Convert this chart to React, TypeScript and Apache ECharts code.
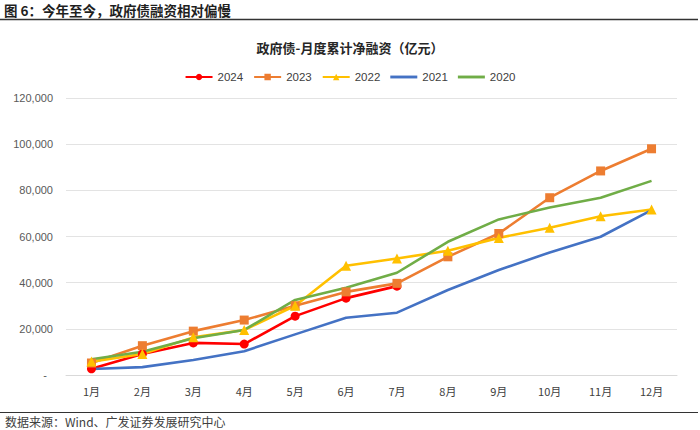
import React, { useEffect, useRef } from "react";
import * as echarts from "echarts";

const months = ["1月", "2月", "3月", "4月", "5月", "6月", "7月", "8月", "9月", "10月", "11月", "12月"];
const s2024 = [2700, 9100, 13900, 13400, 25500, 33300, 38500];
const s2023 = [5200, 12700, 19000, 23800, 30000, 36000, 39700, 51200, 61300, 76800, 88400, 98000];
const s2022 = [5800, 9100, 16300, 19500, 30000, 47300, 50500, 53800, 59400, 63800, 68800, 71700];
const s2021 = [2600, 3400, 6500, 10300, 17600, 24800, 27000, 36800, 45500, 53100, 59900, 71400];
const s2020 = [6800, 10100, 15900, 19500, 32500, 37800, 44300, 57700, 67400, 72600, 76800, 84100];
const yTicks = { min: 0, max: 120000, interval: 20000 };

const pageTitle = "图 6：今年至今，政府债融资相对偏慢";
const chartTitle = "政府债-月度累计净融资（亿元）";
const sourceText = "数据来源：Wind、广发证券发展研究中心";

export default function App() {
  const ref = useRef<HTMLDivElement>(null);
  useEffect(() => {
    if (!ref.current) return;
    const chart = echarts.init(ref.current, null, { renderer: "svg" });
    const cjk = "'Noto Sans CJK SC', sans-serif";
    const lineIcon = "path://M0,0 L28,0 L28,3 L0,3 Z";
    const mk = (name: string, data: number[], color: string, symbol: string, size: number) => ({
      name,
      type: "line",
      data,
      symbol,
      symbolSize: size,
      showSymbol: symbol !== "none",
      lineStyle: { color, width: 2.6 },
      itemStyle: { color },
    });
    chart.setOption({
      animation: false,
      backgroundColor: "#ffffff",
      title: {
        text: chartTitle,
        left: "center",
        top: 36,
        textStyle: { fontFamily: cjk, fontSize: 13, fontWeight: "bold", color: "#262626" },
      },
      legend: {
        top: 66,
        left: "center",
        itemWidth: 27,
        itemHeight: 8,
        itemGap: 10,
        textStyle: { fontFamily: "'Liberation Sans', Arial, sans-serif", fontSize: 11.5, color: "#404040" },
        data: [
          { name: "2024" },
          { name: "2023" },
          { name: "2022" },
          { name: "2021", icon: lineIcon },
          { name: "2020", icon: lineIcon },
        ],
      },
      grid: { left: 66, right: 23, top: 98, bottom: 55 },
      xAxis: {
        type: "category",
        data: months,
        boundaryGap: true,
        axisLine: { lineStyle: { color: "#d9d9d9" } },
        axisTick: { show: false },
        axisLabel: { fontFamily: cjk, fontSize: 11, color: "#404040", margin: 10 },
      },
      yAxis: {
        type: "value",
        min: yTicks.min,
        max: yTicks.max,
        interval: yTicks.interval,
        axisLine: { show: false },
        axisTick: { show: false },
        splitLine: { lineStyle: { color: "#e3e3e3", width: 1 } },
        axisLabel: {
          fontFamily: "'Liberation Sans', Arial, sans-serif",
          fontSize: 11,
          color: "#595959",
          margin: 13,
          formatter: (v: number) => (v === 0 ? "{z|-}" : v.toLocaleString("en-US")),
          rich: { z: { padding: [0, 6, 0, 0], fontSize: 11, color: "#595959" } },
        },
      },
      series: [
        mk("2024", s2024, "#ff0000", "circle", 9),
        mk("2023", s2023, "#ed7d31", "rect", 9),
        mk("2022", s2022, "#ffc000", "triangle", 10),
        mk("2021", s2021, "#4472c4", "none", 0),
        mk("2020", s2020, "#70ad47", "none", 0),
      ],
      graphic: [
        {
          type: "text",
          left: 4,
          top: 3,
          style: { text: pageTitle, font: `bold 13.5px ${cjk}`, fill: "#1f1f1f" },
        },
        {
          type: "line",
          shape: { x1: 0, y1: 19.5, x2: 698, y2: 19.5 },
          style: { stroke: "#333333", lineWidth: 1.5 },
        },
        {
          type: "line",
          shape: { x1: 0, y1: 412.5, x2: 698, y2: 412.5 },
          style: { stroke: "#333333", lineWidth: 1.2 },
        },
        {
          type: "text",
          left: 5,
          top: 415,
          style: { text: sourceText, font: `12px ${cjk}`, fill: "#404040" },
        },
      ],
    });
    return () => chart.dispose();
  }, []);
  return <div ref={ref} style={{ position: "fixed", left: 0, top: 0, width: 700, height: 430 }} />;
}
